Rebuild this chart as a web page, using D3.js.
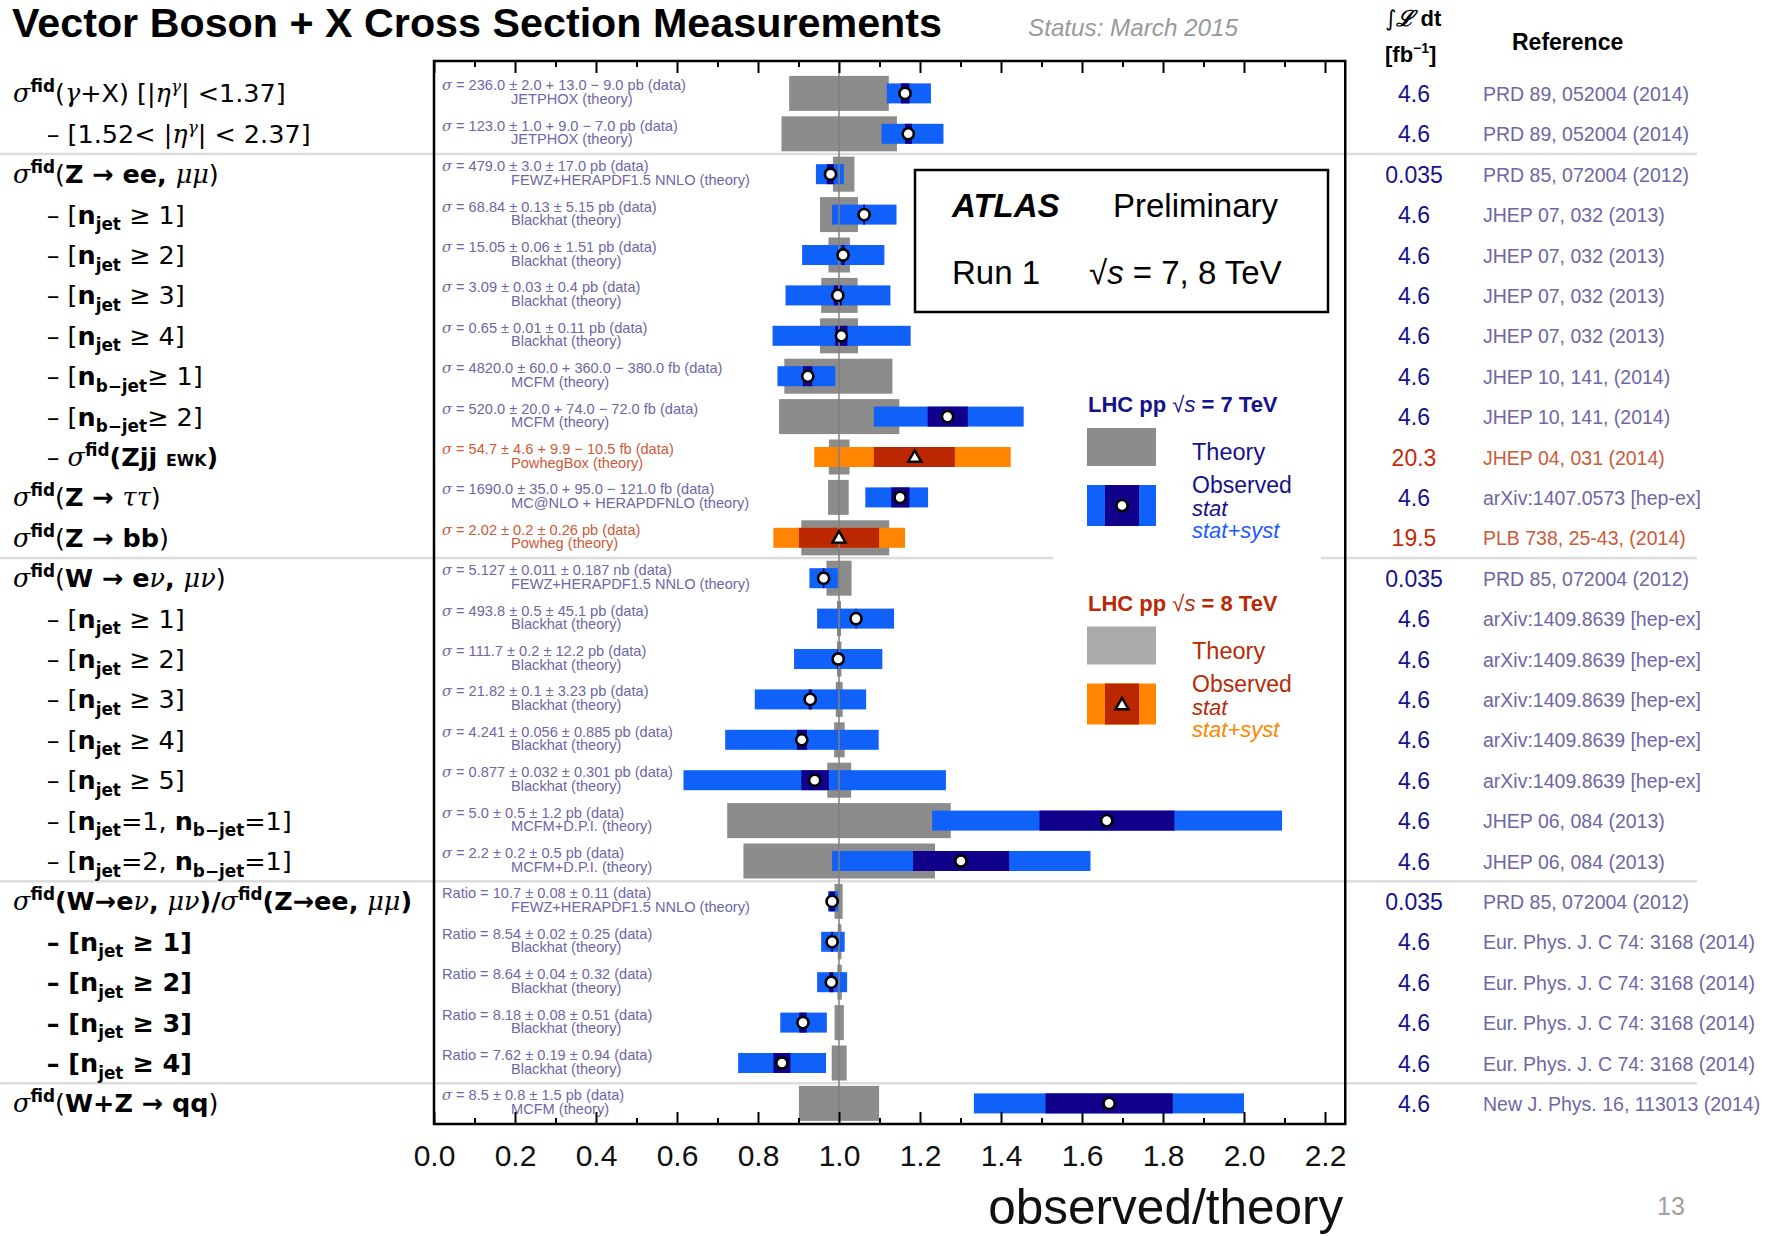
<!DOCTYPE html>
<html>
<head>
<meta charset="utf-8">
<script src="https://cdn.jsdelivr.net/npm/d3@7"></script>
<style>
  body { margin: 0; background: #fff; }
  svg { display: block; }
  text { font-family: "Liberation Sans", Arial, sans-serif; }
</style>
</head>
<body>
<div id="chart"></div>
<script>

// ---- data ----
var rowLabels = [
    'σ^{*fid*}(γ+X) [|η^{γ}| <1.37]',
    '– [1.52< |η^{γ}| < 2.37]',
    'σ^{*fid*}(*Z → ee, *μμ)',
    '– [*n*_{*jet*} ≥ 1]',
    '– [*n*_{*jet*} ≥ 2]',
    '– [*n*_{*jet*} ≥ 3]',
    '– [*n*_{*jet*} ≥ 4]',
    '– [*n*_{*b−jet*}≥ 1]',
    '– [*n*_{*b−jet*}≥ 2]',
    '– σ^{*fid*}*(Zjj *~{*EWK*}*)*',
    'σ^{*fid*}(*Z → *ττ)',
    'σ^{*fid*}(*Z → bb*)',
    'σ^{*fid*}(*W → e*ν*, *μν)',
    '– [*n*_{*jet*} ≥ 1]',
    '– [*n*_{*jet*} ≥ 2]',
    '– [*n*_{*jet*} ≥ 3]',
    '– [*n*_{*jet*} ≥ 4]',
    '– [*n*_{*jet*} ≥ 5]',
    '– [*n*_{*jet*}=1, *n*_{*b−jet*}=1]',
    '– [*n*_{*jet*}=2, *n*_{*b−jet*}=1]',
    'σ^{*fid*}*(W→e*ν*, *μν*)/*σ^{*fid*}*(Z→ee, *μμ*)*',
    '*– [n*_{*jet*}* ≥ 1]*',
    '*– [n*_{*jet*}* ≥ 2]*',
    '*– [n*_{*jet*}* ≥ 3]*',
    '*– [n*_{*jet*}* ≥ 4]*',
    'σ^{*fid*}(*W+Z → qq*)'
];

var energy = [7,7,7,7,7,7,7,7,7,8,7,8,7,7,7,7,7,7,7,7,7,7,7,7,7,7];

var theoryLo = [0.877,0.858,0.985,0.953,0.974,0.956,0.953,0.865,0.852,0.975,0.973,0.907,0.969,
                0.995,0.995,0.992,0.988,0.971,0.724,0.764,0.989,0.997,0.996,0.989,0.982,0.901];
var theoryHi = [1.123,1.143,1.038,1.047,1.027,1.046,1.047,1.132,1.149,1.026,1.024,1.124,1.031,
                1.005,1.006,1.009,1.014,1.030,1.276,1.237,1.009,1.006,1.007,1.012,1.019,1.099];

var totLo = [1.118,1.105,0.943,0.983,0.909,0.868,0.836,0.848,1.086,0.939,1.065,0.838,0.927,
             0.946,0.889,0.792,0.719,0.616,1.230,0.983,0.973,0.956,0.946,0.855,0.751,1.333];
var totHi = [1.227,1.258,1.012,1.142,1.112,1.127,1.177,0.991,1.456,1.424,1.220,1.163,0.997,
             1.136,1.107,1.067,1.098,1.264,2.094,1.621,0.998,1.014,1.020,0.970,0.968,2.000];

var statLo = [1.153,1.163,0.970,1.060,1.006,0.987,0.991,0.911,1.219,1.086,1.129,0.901,0.960,
              1.041,0.996,0.925,0.896,0.907,1.495,1.183,0.976,0.981,0.976,0.902,0.838,1.510];
var statHi = [1.174,1.180,0.987,1.064,1.014,1.007,1.021,0.934,1.318,1.286,1.174,1.099,0.964,
              1.043,1.000,0.933,0.921,0.975,1.828,1.420,0.990,0.985,0.986,0.920,0.880,1.824];

var central = [1.163,1.171,0.979,1.062,1.010,0.997,1.006,0.923,1.268,1.187,1.151,1.000,0.962,
               1.042,0.998,0.929,0.908,0.940,1.661,1.301,0.983,0.983,0.981,0.911,0.859,1.667];

var dataText = [
    'σ = 236.0 ± 2.0 + 13.0 − 9.0 pb (data)',
    'σ = 123.0 ± 1.0 + 9.0 − 7.0 pb (data)',
    'σ = 479.0 ± 3.0 ± 17.0 pb (data)',
    'σ = 68.84 ± 0.13 ± 5.15 pb (data)',
    'σ = 15.05 ± 0.06 ± 1.51 pb (data)',
    'σ = 3.09 ± 0.03 ± 0.4 pb (data)',
    'σ = 0.65 ± 0.01 ± 0.11 pb (data)',
    'σ = 4820.0 ± 60.0 + 360.0 − 380.0 fb (data)',
    'σ = 520.0 ± 20.0 + 74.0 − 72.0 fb (data)',
    'σ = 54.7 ± 4.6 + 9.9 − 10.5 fb (data)',
    'σ = 1690.0 ± 35.0 + 95.0 − 121.0 fb (data)',
    'σ = 2.02 ± 0.2 ± 0.26 pb (data)',
    'σ = 5.127 ± 0.011 ± 0.187 nb (data)',
    'σ = 493.8 ± 0.5 ± 45.1 pb (data)',
    'σ = 111.7 ± 0.2 ± 12.2 pb (data)',
    'σ = 21.82 ± 0.1 ± 3.23 pb (data)',
    'σ = 4.241 ± 0.056 ± 0.885 pb (data)',
    'σ = 0.877 ± 0.032 ± 0.301 pb (data)',
    'σ = 5.0 ± 0.5 ± 1.2 pb (data)',
    'σ = 2.2 ± 0.2 ± 0.5 pb (data)',
    'Ratio = 10.7 ± 0.08 ± 0.11 (data)',
    'Ratio = 8.54 ± 0.02 ± 0.25 (data)',
    'Ratio = 8.64 ± 0.04 ± 0.32 (data)',
    'Ratio = 8.18 ± 0.08 ± 0.51 (data)',
    'Ratio = 7.62 ± 0.19 ± 0.94 (data)',
    'σ = 8.5 ± 0.8 ± 1.5 pb (data)'
];

var theoryText = [
    'JETPHOX (theory)', 'JETPHOX (theory)', 'FEWZ+HERAPDF1.5 NNLO (theory)',
    'Blackhat (theory)', 'Blackhat (theory)', 'Blackhat (theory)', 'Blackhat (theory)',
    'MCFM (theory)', 'MCFM (theory)', 'PowhegBox (theory)', 'MC@NLO + HERAPDFNLO (theory)',
    'Powheg (theory)', 'FEWZ+HERAPDF1.5 NNLO (theory)',
    'Blackhat (theory)', 'Blackhat (theory)', 'Blackhat (theory)', 'Blackhat (theory)', 'Blackhat (theory)',
    'MCFM+D.P.I. (theory)', 'MCFM+D.P.I. (theory)', 'FEWZ+HERAPDF1.5 NNLO (theory)',
    'Blackhat (theory)', 'Blackhat (theory)', 'Blackhat (theory)', 'Blackhat (theory)', 'MCFM (theory)'
];

var lumi = ['4.6','4.6','0.035','4.6','4.6','4.6','4.6','4.6','4.6','20.3','4.6','19.5','0.035',
            '4.6','4.6','4.6','4.6','4.6','4.6','4.6','0.035','4.6','4.6','4.6','4.6','4.6'];

var refs = [
    'PRD 89, 052004 (2014)', 'PRD 89, 052004 (2014)', 'PRD 85, 072004 (2012)',
    'JHEP 07, 032 (2013)', 'JHEP 07, 032 (2013)', 'JHEP 07, 032 (2013)', 'JHEP 07, 032 (2013)',
    'JHEP 10, 141, (2014)', 'JHEP 10, 141, (2014)', 'JHEP 04, 031 (2014)',
    'arXiv:1407.0573 [hep-ex]', 'PLB 738, 25-43, (2014)', 'PRD 85, 072004 (2012)',
    'arXiv:1409.8639 [hep-ex]', 'arXiv:1409.8639 [hep-ex]', 'arXiv:1409.8639 [hep-ex]',
    'arXiv:1409.8639 [hep-ex]', 'arXiv:1409.8639 [hep-ex]',
    'JHEP 06, 084 (2013)', 'JHEP 06, 084 (2013)', 'PRD 85, 072004 (2012)',
    'Eur. Phys. J. C 74: 3168 (2014)', 'Eur. Phys. J. C 74: 3168 (2014)',
    'Eur. Phys. J. C 74: 3168 (2014)', 'Eur. Phys. J. C 74: 3168 (2014)',
    'New J. Phys. 16, 113013 (2014)'
];

// last row of each group (a grey rule follows it)
var groupEnds = [1, 11, 19, 24];

var majorTicks = [0.0, 0.2, 0.4, 0.6, 0.8, 1.0, 1.2, 1.4, 1.6, 1.8, 2.0, 2.2];
var minorTicks = [0.1, 0.3, 0.5, 0.7, 0.9, 1.1, 1.3, 1.5, 1.7, 1.9, 2.1];

// ---- setup ----
var width = 1786, height = 1236;
var plotTop = 61, plotBottom = 1124;

var colors = {
    7: { theory: '#8c8c8c', tot: '#1060fa', stat: '#10008a', text: '#6e66a6', lumi: '#15128c' },
    8: { theory: '#8c8c8c', tot: '#ff8500', stat: '#bb2700', text: '#cc5a38', lumi: '#c42a08' }
};

var svg = d3.select('#chart')
    .append('svg')
    .attr('width', width)
    .attr('height', height);

var x = d3.scaleLinear().domain([0, 2.25]).range([434, 1345.25]);
var y = d3.scaleBand().domain(d3.range(rowLabels.length)).range([73.2, 1123.6]);
var yc = function (i) { return y(i) + y.bandwidth() / 2; };

var rows = d3.range(rowLabels.length);

// small markup: *bold*, _{sub}, ^{sup}, ~{small}; greek letters set in italic serif
var greek = 'σγημντ';
var richText = function (sel, str, size) {
    var bold = false, mode = 'n', buf = '', runs = [];
    var flush = function () { if (buf) runs.push({ t: buf, bold: bold, mode: mode }); buf = ''; };
    for (var i = 0; i < str.length; i++) {
        var c = str[i];
        if (c === '*') { flush(); bold = !bold; continue; }
        if ((c === '_' || c === '^' || c === '~') && str[i + 1] === '{') { flush(); mode = c; i++; continue; }
        if (c === '}' && mode !== 'n') { flush(); mode = 'n'; continue; }
        if (greek.indexOf(c) >= 0) { flush(); runs.push({ t: c, bold: bold, mode: mode, greek: true }); continue; }
        if (c === '→') { flush(); runs.push({ t: c, bold: true, mode: mode, arrow: true }); continue; }
        buf += c;
    }
    flush();
    var shift = 0;
    runs.forEach(function (r) {
        var target = r.mode === '_' ? size * 0.26 : r.mode === '^' ? -size * 0.4 : 0;
        var fs = r.mode === 'n' ? size : r.mode === '~' ? size * 0.62 : size * 0.66;
        var ts = sel.append('tspan')
            .attr('dy', target - shift)
            .attr('font-size', fs)
            .attr('font-weight', r.bold ? 'bold' : 'normal')
            .text(r.t);
        if (r.greek) {
            ts.attr('font-family', '"DejaVu Serif", "Liberation Serif", serif')
                .attr('font-style', 'italic')
                .attr('font-weight', 'normal');
        }
        if (r.arrow) {
            ts.attr('font-family', '"DejaVu Sans", sans-serif');
        }
        shift = target;
    });
};

// ---- group separators ----
svg.selectAll('line.sep')
    .data(groupEnds)
    .enter()
    .append('line')
    .attr('class', 'sep')
    .attr('x1', 0)
    .attr('x2', 1697)
    .attr('y1', function (d) { return y(d) + y.bandwidth(); })
    .attr('y2', function (d) { return y(d) + y.bandwidth(); })
    .attr('stroke', '#dcdcdc')
    .attr('stroke-width', 2.5);

// ---- bars ----
svg.selectAll('rect.theory')
    .data(rows)
    .enter()
    .append('rect')
    .attr('class', 'theory')
    .attr('x', function (i) { return x(theoryLo[i]); })
    .attr('width', function (i) { return x(theoryHi[i]) - x(theoryLo[i]); })
    .attr('y', function (i) { return yc(i) - 17.5; })
    .attr('height', 35)
    .attr('fill', function (i) { return colors[energy[i]].theory; });

svg.selectAll('rect.tot')
    .data(rows)
    .enter()
    .append('rect')
    .attr('class', 'tot')
    .attr('x', function (i) { return x(totLo[i]); })
    .attr('width', function (i) { return x(totHi[i]) - x(totLo[i]); })
    .attr('y', function (i) { return yc(i) - 10; })
    .attr('height', 20)
    .attr('fill', function (i) { return colors[energy[i]].tot; });

svg.selectAll('rect.stat')
    .data(rows)
    .enter()
    .append('rect')
    .attr('class', 'stat')
    .attr('x', function (i) { return x(statLo[i]); })
    .attr('width', function (i) { return x(statHi[i]) - x(statLo[i]); })
    .attr('y', function (i) { return yc(i) - 10; })
    .attr('height', 20)
    .attr('fill', function (i) { return colors[energy[i]].stat; });

// line at observed/theory = 1
svg.append('line')
    .attr('x1', x(1)).attr('x2', x(1))
    .attr('y1', plotTop).attr('y2', plotBottom)
    .attr('stroke', '#808080')
    .attr('stroke-width', 1.5);

// markers: circles for 7 TeV, triangles for 8 TeV
svg.selectAll('circle.mark')
    .data(rows.filter(function (i) { return energy[i] === 7; }))
    .enter()
    .append('circle')
    .attr('class', 'mark')
    .attr('cx', function (i) { return x(central[i]); })
    .attr('cy', yc)
    .attr('r', 5.6)
    .attr('fill', 'white')
    .attr('stroke', 'black')
    .attr('stroke-width', 2.6);

var tri = d3.symbol().type(d3.symbolTriangle).size(75);
svg.selectAll('path.mark')
    .data(rows.filter(function (i) { return energy[i] === 8; }))
    .enter()
    .append('path')
    .attr('class', 'mark')
    .attr('d', tri)
    .attr('transform', function (i) { return 'translate(' + x(central[i]) + ',' + (yc(i) + 1) + ')'; })
    .attr('fill', 'white')
    .attr('stroke', 'black')
    .attr('stroke-width', 2.4);

// ---- in-plot annotations ----
var ann = svg.selectAll('g.ann')
    .data(rows)
    .enter()
    .append('g')
    .attr('class', 'ann')
    .attr('fill', function (i) { return colors[energy[i]].text; })
    .attr('font-size', 14.6);

ann.append('text')
    .attr('x', 442)
    .attr('y', function (i) { return yc(i) - 3; })
    .each(function (i) {
        var t = d3.select(this), s = dataText[i];
        if (s[0] === 'σ') {
            t.append('tspan').attr('font-family', '"DejaVu Serif", serif').attr('font-style', 'italic').text('σ');
            t.append('tspan').text(s.slice(1));
        } else {
            t.text(s);
        }
    });

ann.append('text')
    .attr('x', 511)
    .attr('y', function (i) { return yc(i) + 10.5; })
    .text(function (i) { return theoryText[i]; });

// ---- axes ----
var axisBottom = svg.append('g')
    .attr('transform', 'translate(0,' + plotBottom + ')')
    .call(d3.axisBottom(x).tickValues(majorTicks).tickSize(-12).tickPadding(21).tickFormat(d3.format('.1f')));
var axisBottomMinor = svg.append('g')
    .attr('transform', 'translate(0,' + plotBottom + ')')
    .call(d3.axisBottom(x).tickValues(minorTicks).tickSize(-6).tickFormat(''));
var axisTop = svg.append('g')
    .attr('transform', 'translate(0,' + plotTop + ')')
    .call(d3.axisTop(x).tickValues(majorTicks).tickSize(-12).tickFormat(''));
var axisTopMinor = svg.append('g')
    .attr('transform', 'translate(0,' + plotTop + ')')
    .call(d3.axisTop(x).tickValues(minorTicks).tickSize(-6).tickFormat(''));

[axisBottom, axisBottomMinor, axisTop, axisTopMinor].forEach(function (g) {
    g.select('.domain').remove();
    g.selectAll('.tick line').attr('stroke', 'black').attr('stroke-width', 2);
});
axisBottom.selectAll('.tick text')
    .attr('font-size', 30)
    .attr('font-family', '"Liberation Sans", Arial, sans-serif')
    .attr('fill', '#111');

svg.append('rect')
    .attr('x', x(0)).attr('y', plotTop)
    .attr('width', x(2.25) - x(0)).attr('height', plotBottom - plotTop)
    .attr('fill', 'none')
    .attr('stroke', 'black')
    .attr('stroke-width', 2.5);

svg.append('text')
    .attr('x', x(2.25) - 2)
    .attr('y', 1224)
    .attr('text-anchor', 'end')
    .attr('font-size', 49.5)
    .attr('fill', '#111')
    .text('observed/theory');

// ---- row labels, lumi and references ----
svg.selectAll('text.label')
    .data(rows)
    .enter()
    .append('text')
    .attr('class', 'label')
    .attr('x', function (i) { return rowLabels[i].replace(/\*/g, '')[0] === '–' ? 46.7 : 13; })
    .attr('y', function (i) { return yc(i) + 9; })
    .attr('fill', 'black')
    .style('font-family', '"DejaVu Sans", sans-serif')
    .each(function (i) { richText(d3.select(this), rowLabels[i], 25.5); });

svg.selectAll('text.lumi')
    .data(rows)
    .enter()
    .append('text')
    .attr('class', 'lumi')
    .attr('x', 1414)
    .attr('y', function (i) { return yc(i) + 8.5; })
    .attr('text-anchor', 'middle')
    .attr('font-size', 23)
    .attr('fill', function (i) { return colors[energy[i]].lumi; })
    .text(function (i) { return lumi[i]; });

svg.selectAll('text.ref')
    .data(rows)
    .enter()
    .append('text')
    .attr('class', 'ref')
    .attr('x', 1483)
    .attr('y', function (i) { return yc(i) + 7.5; })
    .attr('font-size', 19.5)
    .attr('fill', function (i) { return colors[energy[i]].text; })
    .text(function (i) { return refs[i]; });

// ---- header ----
svg.append('text')
    .attr('x', 12).attr('y', 37)
    .attr('font-size', 40)
    .attr('font-weight', 'bold')
    .attr('textLength', 930)
    .attr('lengthAdjust', 'spacingAndGlyphs')
    .text('Vector Boson + X Cross Section Measurements');

svg.append('text')
    .attr('x', 1028).attr('y', 36)
    .attr('font-size', 24)
    .attr('font-style', 'italic')
    .attr('fill', '#999')
    .attr('textLength', 210)
    .attr('lengthAdjust', 'spacingAndGlyphs')
    .text('Status: March 2015');

var lh = svg.append('text')
    .attr('x', 1385).attr('y', 26)
    .attr('font-size', 22)
    .attr('font-weight', 'bold');
lh.append('tspan').attr('font-family', '"DejaVu Sans", sans-serif').attr('font-weight', 'normal').text('∫');
lh.append('tspan').attr('font-family', '"DejaVu Serif", serif').attr('font-style', 'italic').text('ℒ');
lh.append('tspan').text(' dt');

var fb = svg.append('text')
    .attr('x', 1385).attr('y', 62)
    .attr('font-size', 22)
    .attr('font-weight', 'bold');
fb.append('tspan').text('[fb');
fb.append('tspan').attr('dy', -9).attr('font-size', 14).text('−1');
fb.append('tspan').attr('dy', 9).text(']');

svg.append('text')
    .attr('x', 1512).attr('y', 50)
    .attr('font-size', 23)
    .attr('font-weight', 'bold')
    .text('Reference');

svg.append('text')
    .attr('x', 1657).attr('y', 1215)
    .attr('font-size', 25)
    .attr('fill', '#a0a0a0')
    .text('13');

// ---- ATLAS box ----
svg.append('rect')
    .attr('x', 915).attr('y', 170)
    .attr('width', 413).attr('height', 142)
    .attr('fill', 'white')
    .attr('stroke', 'black')
    .attr('stroke-width', 2.5);
svg.append('text').attr('x', 952).attr('y', 217).attr('font-size', 33)
    .attr('font-weight', 'bold').attr('font-style', 'italic').text('ATLAS');
svg.append('text').attr('x', 1113).attr('y', 217).attr('font-size', 33).text('Preliminary');
svg.append('text').attr('x', 952).attr('y', 284).attr('font-size', 33).text('Run 1');
var rs = svg.append('text').attr('x', 1089).attr('y', 284).attr('font-size', 33);
rs.append('tspan').text('√');
rs.append('tspan').attr('font-style', 'italic').text('s');
rs.append('tspan').text(' = 7, 8 TeV');

// ---- legend ----
var legend = svg.append('g');
legend.append('rect')
    .attr('x', 1053).attr('y', 385)
    .attr('width', 268).attr('height', 372)
    .attr('fill', 'white');

var legendRows = [
    { e: 7, top: 0, theory: '#8c8c8c', head: '#15128c', sub: '#1a5cff' },
    { e: 8, top: 198.5, theory: '#aaaaaa', head: '#b82a06', sub: '#ff8500' }
];

legendRows.forEach(function (L) {
    var c = colors[L.e];
    var g = legend.append('g').attr('transform', 'translate(0,' + L.top + ')');
    var h = g.append('text').attr('x', 1088).attr('y', 412).attr('font-size', 22)
        .attr('font-weight', 'bold').attr('fill', L.head);
    h.append('tspan').text('LHC pp  ');
    h.append('tspan').attr('font-weight', 'normal').text('√');
    h.append('tspan').attr('font-style', 'italic').attr('font-weight', 'normal').text('s');
    h.append('tspan').text(' = ' + L.e + ' TeV');

    g.append('rect').attr('x', 1087).attr('y', 428).attr('width', 69).attr('height', 38).attr('fill', L.theory);
    g.append('text').attr('x', 1192).attr('y', 460).attr('font-size', 23.5).attr('fill', L.head).text('Theory');

    g.append('rect').attr('x', 1087).attr('y', 485).attr('width', 69).attr('height', 41).attr('fill', c.tot);
    g.append('rect').attr('x', 1105).attr('y', 485).attr('width', 34).attr('height', 41).attr('fill', c.stat);
    if (L.e === 7) {
        g.append('circle').attr('cx', 1122).attr('cy', 505.5).attr('r', 5.6)
            .attr('fill', 'white').attr('stroke', 'black').attr('stroke-width', 2.6);
    } else {
        g.append('path').attr('d', tri).attr('transform', 'translate(1122,507)')
            .attr('fill', 'white').attr('stroke', 'black').attr('stroke-width', 2.4);
    }
    g.append('text').attr('x', 1192).attr('y', 493).attr('font-size', 23).attr('fill', L.head).text('Observed');
    g.append('text').attr('x', 1192).attr('y', 516).attr('font-size', 22).attr('font-style', 'italic')
        .attr('fill', L.head).text('stat');
    g.append('text').attr('x', 1192).attr('y', 538).attr('font-size', 22).attr('font-style', 'italic')
        .attr('fill', L.sub).text('stat+syst');
});

</script>
</body>
</html>
